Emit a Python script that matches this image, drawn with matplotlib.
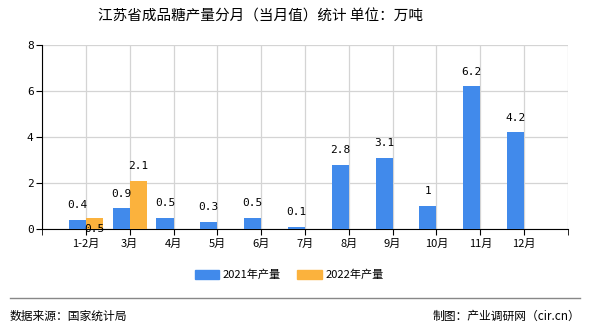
import matplotlib
matplotlib.use("Agg")
import matplotlib.pyplot as plt
from matplotlib.patches import Patch
import numpy as np

plt.rcParams['font.family'] = ['Noto Sans CJK SC', 'DejaVu Sans']

categories = ["1-2月", "3月", "4月", "5月", "6月", "7月", "8月", "9月", "10月", "11月", "12月"]
values_2021 = [0.4, 0.9, 0.5, 0.3, 0.5, 0.1, 2.8, 3.1, 1, 6.2, 4.2]
values_2022 = [0.5, 2.1]
labels_2021 = ["0.4", "0.9", "0.5", "0.3", "0.5", "0.1", "2.8", "3.1", "1", "6.2", "4.2"]
labels_2022 = ["0.5", "2.1"]
series_names = ["2021年产量", "2022年产量"]
yticks = [0, 2, 4, 6, 8]

c2021 = "#418AEB"
c2022 = "#FBB23D"

fig = plt.figure(figsize=(5.9, 3.3), dpi=100)
ax = fig.add_axes([42/590, 1-229/330, (568-42)/590, (229-45)/330])

x = np.arange(1, len(categories)+1)
w = 0.39
ax.bar(x[:len(values_2021)] - w/2, values_2021, width=w, color=c2021, zorder=3)
ax.bar(x[:len(values_2022)] + w/2, values_2022, width=w, color=c2022, zorder=3)

mono = "DejaVu Sans Mono"
for xi, v, s in zip(x, values_2021, labels_2021):
    ax.annotate(s, (xi - w/2, v), xytext=(0, 7), textcoords="offset points",
                ha="center", va="bottom", fontsize=8, family=mono, zorder=4)
for i, (xi, v, s) in enumerate(zip(x, values_2022, labels_2022)):
    dy = -12 if i == 0 else 7
    ax.annotate(s, (xi + w/2, v), xytext=(0, dy), textcoords="offset points",
                ha="center", va="bottom", fontsize=8, family=mono, zorder=4)

ax.set_xlim(0, len(categories)+1)
ax.set_ylim(0, 8)
ax.set_yticks(yticks)
ax.set_yticklabels([str(t) for t in yticks], family=mono, fontsize=8)
ax.set_xticks(x)
ax.set_xticklabels(categories, fontsize=8)
ax.set_xticks(np.arange(0, len(categories)+2), minor=True)
ax.tick_params(axis='x', which='both', length=4, direction='out', color='black', pad=3)
ax.tick_params(axis='y', length=4, direction='out', color='black', pad=2)

ax.grid(True, which='both', axis='x', color='#d4d4d4', linewidth=0.9, zorder=0)
ax.grid(True, axis='y', color='#d4d4d4', linewidth=0.9, zorder=0)
for s in ['top', 'right']:
    ax.spines[s].set_visible(False)
ax.spines['left'].set_color('black')
ax.spines['bottom'].set_color('black')

fig.text(261/590, 1-17/330, "江苏省成品糖产量分月（当月值）统计 单位：万吨", ha='center', va='center',
         fontsize=10.5)

handles = [Patch(color=c2021), Patch(color=c2022)]
fig.legend(handles, series_names, loc='center', bbox_to_anchor=(0.49, 1-275/330), ncol=2,
           frameon=False, fontsize=8, handlelength=2.2, handleheight=0.8, columnspacing=1.5,
           handletextpad=0.3)

fig.add_artist(plt.Line2D([10/590, 580/590], [1-298/330, 1-298/330], color='#888888', linewidth=1))
fig.text(10/590, 1-316/330, "数据来源：国家统计局", ha='left', va='center', fontsize=8.5)
fig.text(580/590, 1-316/330, "制图：产业调研网（cir.cn）", ha='right', va='center', fontsize=8.5)

fig.savefig("out.png", dpi=100)
